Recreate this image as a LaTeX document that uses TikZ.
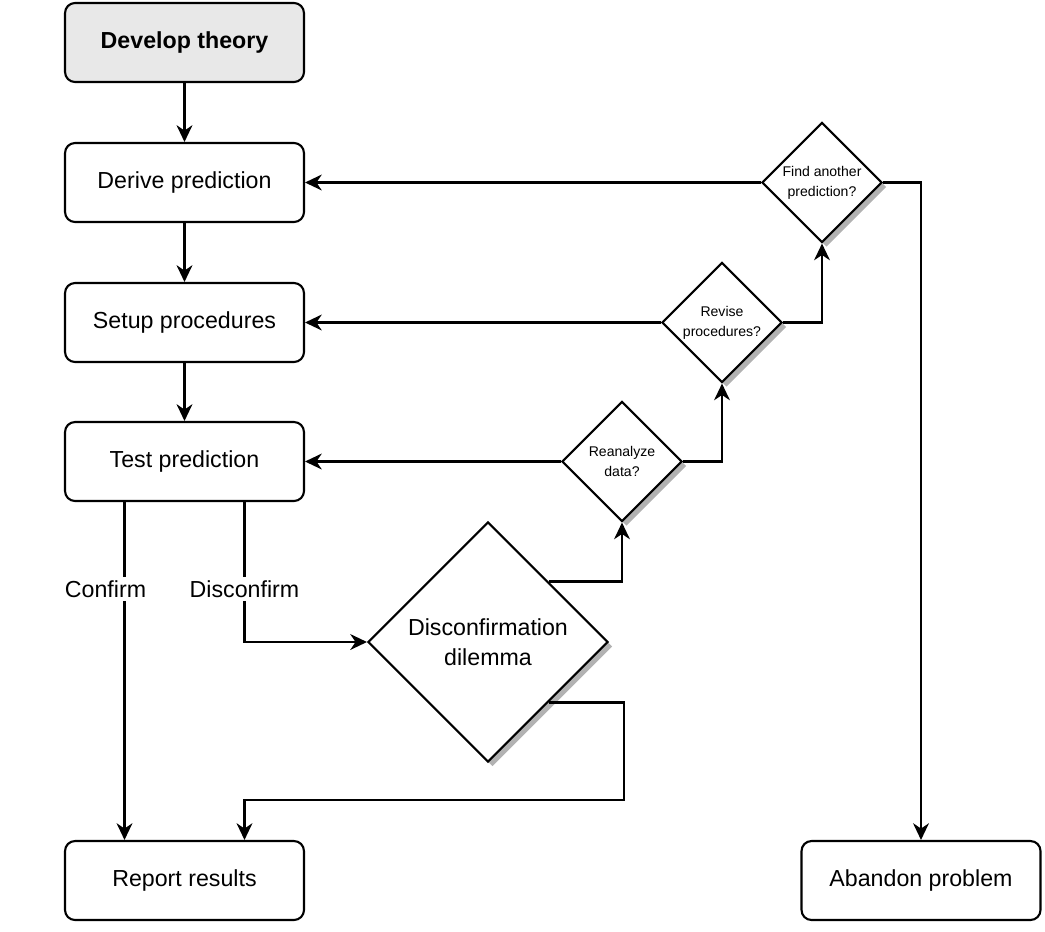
\documentclass[tikz,border=0pt]{standalone}
\usepackage{fontspec}
\setmainfont{Liberation Sans}
\usepackage{tikz}
\usetikzlibrary{calc,shapes.geometric,shadows,arrows.meta}

\begin{document}
\begin{tikzpicture}[x=0.02cm,y=-0.02cm,line width=1.2pt,font=\fontsize{13.2}{17}\selectfont]
% Two node styles: boxes and questions
\tikzstyle{box}=[draw,rounded corners=0.2cm,fill=white,minimum width=4.78cm,minimum height=1.58cm,align=center];
\tikzstyle{ask}=[diamond,draw,fill=white,inner sep=0pt,aspect=1,minimum width=2.4cm,minimum height=2.4cm,align=center,font=\fontsize{8}{11.4}\selectfont,
  drop shadow={shadow xshift=0.09cm,shadow yshift=-0.09cm,fill=black!30,opacity=1}];
\tikzstyle{arr}=[-{Stealth[length=9.5pt,width=9pt,inset=3pt]}];
\useasboundingbox (0,0) rectangle (1045,931);
% The boxes
\node(dev)[box,fill=black!9,font=\fontsize{13.2}{17}\selectfont\bfseries] at (184.5,42.5){Develop theory};
\node(der)[box] at (184.5,182.5){Derive prediction};
\node(set)[box] at (184.5,322.5){Setup procedures};
\node(tst)[box] at (184.5,461.5){Test prediction};
\node(rep)[box] at (184.5,880.5){Report results};
\node(ab)[box] at (921,880.5){Abandon problem};
% The questions
\node(find)[ask] at (822,182.5){Find another\\prediction?};
\node(rev)[ask] at (722,322.5){Revise\\procedures?};
\node(rean)[ask] at (622,461.5){Reanalyze\\data?};
\node(dil)[ask,minimum width=4.8cm,minimum height=4.8cm,font=\fontsize{13.2}{17}\selectfont] at (488,642){Disconfirmation\\dilemma};
\coordinate(bend) at (624,800);
% main line
\draw[arr](dev)--(der);
\draw[arr](der)--(set);
\draw[arr](set)--(tst);
% back loops
\draw[arr](find.west)--(der.east);
\draw[arr](rev.west)--(set.east);
\draw[arr](rean.west)--(tst.east);
\draw[arr](find.east)-|(ab.north);
\draw[arr](rev.east)-|(find.south);
\draw[arr](rean.east)-|(rev.south);
\draw[arr]($(dil.north)!0.5!(dil.east)$)-|(rean.south);
% outcomes
\draw[arr]([xshift=-1.2cm]tst.south)--node[pos=0.258,fill=white,inner sep=2pt,xshift=-0.38cm]{Confirm}([xshift=-1.2cm]rep.north);
\draw[arr]([xshift=1.2cm]tst.south)|-node[pos=0.31,fill=white,inner sep=2pt]{Disconfirm}(dil.west);
\draw[arr]($(dil.south)!0.5!(dil.east)$)-|(bend)-|([xshift=1.2cm]rep.north);
\end{tikzpicture}
\end{document}
